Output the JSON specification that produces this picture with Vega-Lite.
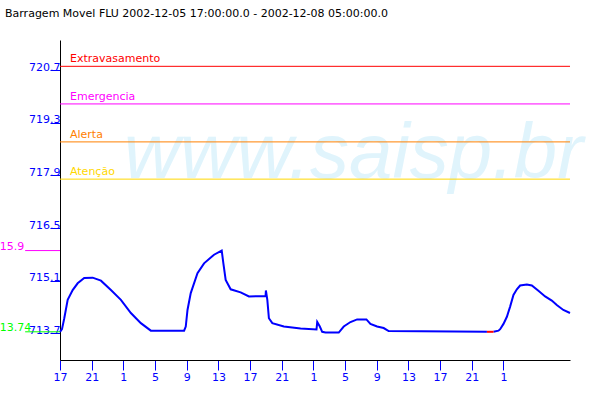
{
  "$schema": "https://vega.github.io/schema/vega-lite/v6.json",
  "width": 510,
  "height": 320,
  "autosize": "none",
  "padding": {"left": 60, "top": 40, "right": 30, "bottom": 40},
  "background": "white",
  "title": {
    "text": "Barragem Movel FLU 2002-12-05 17:00:00.0 - 2002-12-08 05:00:00.0",
    "anchor": "start",
    "frame": "group",
    "dx": -55,
    "offset": 12,
    "baseline": "alphabetic",
    "font": "DejaVu Sans",
    "fontSize": 11,
    "fontWeight": "normal",
    "color": "black"
  },
  "config": {
    "view": {"stroke": null},
    "axis": {"grid": false, "labelFont": "DejaVu Sans", "labelFontSize": 11, "title": null, "labelOverlap": false},
    "axisX": {"tickColor": "#0000ff", "labelColor": "#0000ff", "domainColor": "black", "tickSize": 10, "labelPadding": 1, "labelFlush": false},
    "axisY": {"tickColor": "#0000ff", "labelColor": "#0000ff", "domainColor": "black", "tickSize": 10, "labelPadding": -10, "labelBaseline": "alphabetic"}
  },
  "datasets": {
    "nivel": [
      {"h": 0.0, "v": 713.74}, {"h": 0.25, "v": 713.81}, {"h": 0.54, "v": 714.10}, {"h": 0.97, "v": 714.59},
      {"h": 1.60, "v": 714.85}, {"h": 2.23, "v": 715.03}, {"h": 3.06, "v": 715.17}, {"h": 4.12, "v": 715.18},
      {"h": 5.17, "v": 715.10}, {"h": 6.43, "v": 714.85}, {"h": 7.69, "v": 714.59}, {"h": 8.95, "v": 714.24},
      {"h": 10.21, "v": 713.97}, {"h": 11.47, "v": 713.77}, {"h": 15.67, "v": 713.77}, {"h": 15.88, "v": 713.88},
      {"h": 16.10, "v": 714.32}, {"h": 16.51, "v": 714.77}, {"h": 17.36, "v": 715.30}, {"h": 18.19, "v": 715.56},
      {"h": 19.45, "v": 715.79}, {"h": 20.42, "v": 715.90}, {"h": 20.63, "v": 715.56}, {"h": 20.92, "v": 715.12},
      {"h": 21.55, "v": 714.87}, {"h": 22.81, "v": 714.79}, {"h": 23.86, "v": 714.68}, {"h": 25.96, "v": 714.69},
      {"h": 26.00, "v": 714.84}, {"h": 26.18, "v": 714.59}, {"h": 26.38, "v": 714.10}, {"h": 26.81, "v": 713.97},
      {"h": 28.27, "v": 713.88}, {"h": 30.38, "v": 713.83}, {"h": 32.39, "v": 713.80}, {"h": 32.48, "v": 714.00},
      {"h": 32.81, "v": 713.88}, {"h": 33.11, "v": 713.74}, {"h": 33.53, "v": 713.72}, {"h": 35.20, "v": 713.72},
      {"h": 35.83, "v": 713.88}, {"h": 36.68, "v": 714.00}, {"h": 37.52, "v": 714.07}, {"h": 38.69, "v": 714.07},
      {"h": 39.20, "v": 713.95}, {"h": 40.04, "v": 713.88}, {"h": 40.87, "v": 713.84}, {"h": 41.50, "v": 713.76},
      {"h": 53.91, "v": 713.74}
    ],
    "nivel2": [
      {"h": 54.74, "v": 713.74}, {"h": 55.37, "v": 713.77}, {"h": 55.58, "v": 713.81}, {"h": 56.00, "v": 713.95},
      {"h": 56.43, "v": 714.14}, {"h": 56.84, "v": 714.41}, {"h": 57.26, "v": 714.72}, {"h": 57.69, "v": 714.87},
      {"h": 58.10, "v": 714.97}, {"h": 58.95, "v": 715.00}, {"h": 59.58, "v": 714.97}, {"h": 60.41, "v": 714.83},
      {"h": 61.26, "v": 714.68}, {"h": 62.10, "v": 714.57}, {"h": 62.73, "v": 714.45}, {"h": 63.56, "v": 714.32},
      {"h": 64.40, "v": 714.24}
    ],
    "falha": [
      {"h": 53.91, "v": 713.74}, {"h": 54.74, "v": 713.74}
    ],
    "limites": [
      {"nome": "Extravasamento", "valor": 720.8},
      {"nome": "Emergencia", "valor": 719.8},
      {"nome": "Alerta", "valor": 718.79},
      {"nome": "Atenção", "valor": 717.8}
    ],
    "extremos": [
      {"rotulo": "715.9", "valor": 715.9},
      {"rotulo": "713.74", "valor": 713.74}
    ],
    "marca": [
      {"texto": "www.saisp.br"}
    ]
  },
  "layer": [
    {
      "data": {"name": "marca"},
      "mark": {"type": "text", "font": "Liberation Sans", "fontStyle": "italic", "fontSize": 78, "color": "#e0f4fc", "align": "center", "baseline": "alphabetic"},
      "encoding": {
        "x": {
          "datum": 37.06, "type": "quantitative",
          "scale": {"domain": [0, 64.4], "nice": false, "zero": false},
          "axis": {"values": [0, 4, 8, 12, 16, 20, 24, 28, 32, 36, 40, 44, 48, 52, 56], "labelExpr": "'' + ((datum.value + 17) % 24)"}
        },
        "y": {
          "datum": 717.82, "type": "quantitative",
          "scale": {"domain": [712.99, 721.5], "nice": false, "zero": false},
          "axis": {"values": [713.7, 715.1, 716.5, 717.9, 719.3, 720.7], "format": ".1f"}
        },
        "text": {"field": "texto"}
      }
    },
    {
      "data": {"name": "limites"},
      "mark": {"type": "rule", "strokeWidth": 1},
      "encoding": {
        "y": {"field": "valor", "type": "quantitative",
          "axis": {"values": [713.7, 715.1, 716.5, 717.9, 719.3, 720.7], "format": ".1f"}},
        "color": {"field": "nome", "type": "nominal", "legend": null,
          "scale": {"domain": ["Extravasamento", "Emergencia", "Alerta", "Atenção"], "range": ["#ff0000", "#ff00ff", "#ff8000", "#ffd700"]}}
      }
    },
    {
      "data": {"name": "limites"},
      "mark": {"type": "text", "font": "DejaVu Sans", "fontSize": 11, "align": "left", "baseline": "alphabetic", "dy": -4},
      "encoding": {
        "x": {"datum": 1.26, "type": "quantitative",
          "axis": {"values": [0, 4, 8, 12, 16, 20, 24, 28, 32, 36, 40, 44, 48, 52, 56], "labelExpr": "'' + ((datum.value + 17) % 24)"}},
        "y": {"field": "valor", "type": "quantitative",
          "axis": {"values": [713.7, 715.1, 716.5, 717.9, 719.3, 720.7], "format": ".1f"}},
        "text": {"field": "nome"},
        "color": {"field": "nome", "type": "nominal", "legend": null}
      }
    },
    {
      "data": {"name": "extremos"},
      "mark": {"type": "rule", "strokeWidth": 1, "color": "#ff00ff"},
      "transform": [{"filter": "datum.rotulo == '715.9'"}],
      "encoding": {
        "x": {"datum": -4.4, "type": "quantitative",
          "axis": {"values": [0, 4, 8, 12, 16, 20, 24, 28, 32, 36, 40, 44, 48, 52, 56], "labelExpr": "'' + ((datum.value + 17) % 24)"}},
        "x2": {"datum": 0},
        "y": {"field": "valor", "type": "quantitative",
          "axis": {"values": [713.7, 715.1, 716.5, 717.9, 719.3, 720.7], "format": ".1f"}}
      }
    },
    {
      "data": {"name": "extremos"},
      "mark": {"type": "rule", "strokeWidth": 1, "color": "#00ff00"},
      "transform": [{"filter": "datum.rotulo == '713.74'"}],
      "encoding": {
        "x": {"datum": -4.4, "type": "quantitative",
          "axis": {"values": [0, 4, 8, 12, 16, 20, 24, 28, 32, 36, 40, 44, 48, 52, 56], "labelExpr": "'' + ((datum.value + 17) % 24)"}},
        "x2": {"datum": 0},
        "y": {"field": "valor", "type": "quantitative",
          "axis": {"values": [713.7, 715.1, 716.5, 717.9, 719.3, 720.7], "format": ".1f"}}
      }
    },
    {
      "data": {"name": "extremos"},
      "mark": {"type": "text", "font": "DejaVu Sans", "fontSize": 11, "align": "left", "baseline": "alphabetic", "dy": -1, "color": "#ff00ff"},
      "transform": [{"filter": "datum.rotulo == '715.9'"}],
      "encoding": {
        "x": {"datum": -8.5, "type": "quantitative",
          "axis": {"values": [0, 4, 8, 12, 16, 20, 24, 28, 32, 36, 40, 44, 48, 52, 56], "labelExpr": "'' + ((datum.value + 17) % 24)"}},
        "y": {"field": "valor", "type": "quantitative",
          "axis": {"values": [713.7, 715.1, 716.5, 717.9, 719.3, 720.7], "format": ".1f"}},
        "text": {"field": "rotulo"}
      }
    },
    {
      "data": {"name": "extremos"},
      "mark": {"type": "text", "font": "DejaVu Sans", "fontSize": 11, "align": "left", "baseline": "alphabetic", "dy": -1, "color": "#00ff00"},
      "transform": [{"filter": "datum.rotulo == '713.74'"}],
      "encoding": {
        "x": {"datum": -8.5, "type": "quantitative",
          "axis": {"values": [0, 4, 8, 12, 16, 20, 24, 28, 32, 36, 40, 44, 48, 52, 56], "labelExpr": "'' + ((datum.value + 17) % 24)"}},
        "y": {"field": "valor", "type": "quantitative",
          "axis": {"values": [713.7, 715.1, 716.5, 717.9, 719.3, 720.7], "format": ".1f"}},
        "text": {"field": "rotulo"}
      }
    },
    {
      "data": {"name": "nivel"},
      "mark": {"type": "line", "color": "#0000ff", "strokeWidth": 2},
      "encoding": {
        "x": {"field": "h", "type": "quantitative",
          "axis": {"values": [0, 4, 8, 12, 16, 20, 24, 28, 32, 36, 40, 44, 48, 52, 56], "labelExpr": "'' + ((datum.value + 17) % 24)"}},
        "y": {"field": "v", "type": "quantitative",
          "axis": {"values": [713.7, 715.1, 716.5, 717.9, 719.3, 720.7], "format": ".1f"}}
      }
    },
    {
      "data": {"name": "nivel2"},
      "mark": {"type": "line", "color": "#0000ff", "strokeWidth": 2},
      "encoding": {
        "x": {"field": "h", "type": "quantitative",
          "axis": {"values": [0, 4, 8, 12, 16, 20, 24, 28, 32, 36, 40, 44, 48, 52, 56], "labelExpr": "'' + ((datum.value + 17) % 24)"}},
        "y": {"field": "v", "type": "quantitative",
          "axis": {"values": [713.7, 715.1, 716.5, 717.9, 719.3, 720.7], "format": ".1f"}}
      }
    },
    {
      "data": {"name": "falha"},
      "mark": {"type": "line", "color": "#ff0000", "strokeWidth": 2},
      "encoding": {
        "x": {"field": "h", "type": "quantitative",
          "axis": {"values": [0, 4, 8, 12, 16, 20, 24, 28, 32, 36, 40, 44, 48, 52, 56], "labelExpr": "'' + ((datum.value + 17) % 24)"}},
        "y": {"field": "v", "type": "quantitative",
          "axis": {"values": [713.7, 715.1, 716.5, 717.9, 719.3, 720.7], "format": ".1f"}}
      }
    }
  ]
}
